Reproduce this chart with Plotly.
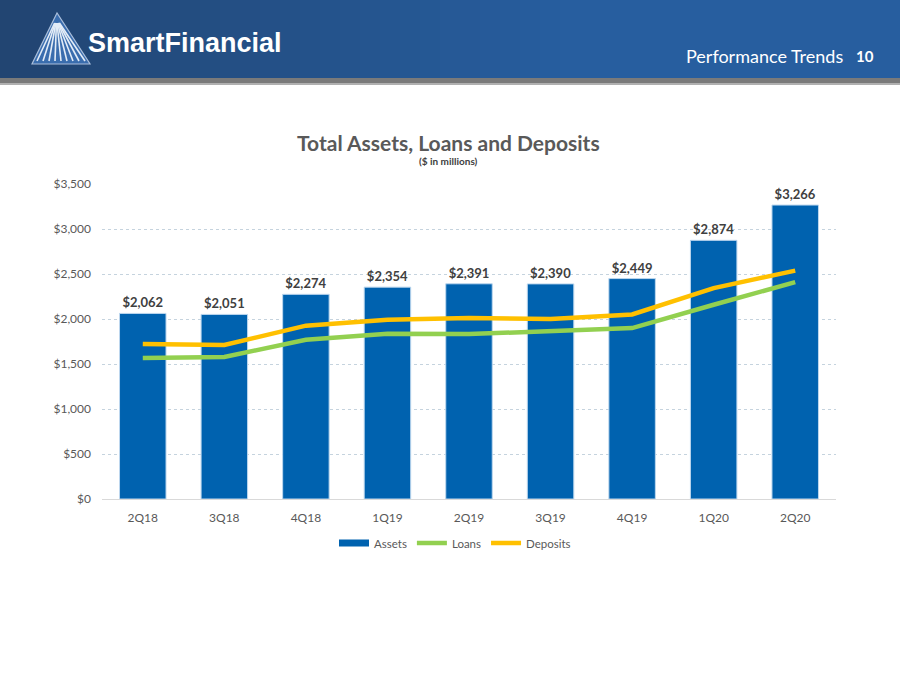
import plotly.graph_objects as go

quarters = ["2Q18", "3Q18", "4Q18", "1Q19", "2Q19", "3Q19", "4Q19", "1Q20", "2Q20"]
assets = [2062, 2051, 2274, 2354, 2391, 2390, 2449, 2874, 3266]
loans = [1567, 1578, 1769, 1836, 1832, 1868, 1899, 2158, 2410]
deposits = [1722, 1711, 1926, 1992, 2011, 2001, 2050, 2343, 2538]
y_ticks = [0, 500, 1000, 1500, 2000, 2500, 3000, 3500]
y_tick_labels = ["$0", "$500", "$1,000", "$1,500", "$2,000", "$2,500", "$3,000", "$3,500"]

W, H = 900, 675
L, R, T, B = 102, 836, 184, 499

def px(x):
    return (x - L) / (R - L)

def py(y):
    return (B - y) / (B - T)

BLUE = "#0062AF"
GREEN = "#92D050"
GOLD = "#FFC000"

fig = go.Figure()
fig.add_trace(go.Bar(
    x=quarters, y=assets, name="Assets", showlegend=False,
    marker=dict(color=BLUE, line=dict(color="#BDD7EE", width=1)),
    width=0.57,
    texttemplate="$%{y:,}", textposition="outside",
    textfont=dict(family="Lato", size=13, color="#404040", weight="bold"),
    cliponaxis=False,
))
# legend entry for bars drawn as a wide band (like the original)
fig.add_trace(go.Scatter(
    x=[None], y=[None], name="Assets", mode="lines",
    line=dict(color=BLUE, width=7),
))
fig.add_trace(go.Scatter(
    x=quarters, y=loans, name="Loans", mode="lines",
    line=dict(color=GREEN, width=4.5),
))
fig.add_trace(go.Scatter(
    x=quarters, y=deposits, name="Deposits", mode="lines",
    line=dict(color=GOLD, width=4.5),
))

shapes = []
# header gradient
n = 45
c0 = (0x22, 0x45, 0x72)
c1 = (0x27, 0x5E, 0x9F)
for i in range(n):
    t = i / (n - 1)
    c = tuple(int(c0[k] + (c1[k] - c0[k]) * min(1, t * 1.6)) for k in range(3))
    x0 = W * i / n
    x1 = W * (i + 1) / n + 1
    shapes.append(dict(type="rect", xref="paper", yref="paper",
                       x0=px(x0), x1=px(x1), y0=py(78), y1=py(0),
                       fillcolor="rgb(%d,%d,%d)" % c, line=dict(width=0), layer="below"))
shapes.append(dict(type="rect", xref="paper", yref="paper",
                   x0=px(0), x1=px(W), y0=py(83), y1=py(78),
                   fillcolor="#7A7A7A", line=dict(width=0), layer="below"))
shapes.append(dict(type="rect", xref="paper", yref="paper",
                   x0=px(0), x1=px(W), y0=py(85), y1=py(83),
                   fillcolor="#B0B0B0", line=dict(width=0), layer="below"))
# logo triangle
ax, ay = 57, 13
bl, br, by = 32, 90, 64
shapes.append(dict(type="path", xref="paper", yref="paper",
                   path="M %f %f L %f %f L %f %f Z" % (px(ax), py(ay), px(bl), py(by), px(br), py(by)),
                   fillcolor="#3A6DAE", line=dict(color="#A9BEDB", width=1.2), layer="below"))
for k in range(-4, 5):
    bx = 61 + k * 6.0
    shapes.append(dict(type="line", xref="paper", yref="paper",
                       x0=px(ax + k * 0.6), y0=py(ay + 10), x1=px(bx), y1=py(by - 3),
                       line=dict(color="#E3ECF7", width=1.6), layer="below"))

annotations = [
    dict(text="<b>SmartFinancial</b>", x=px(86), y=py(43), xref="paper", yref="paper",
         xanchor="left", yanchor="middle", showarrow=False,
         font=dict(family="Liberation Sans", size=27, color="white")),
    dict(text="Performance Trends", x=px(845), y=py(56), xref="paper", yref="paper",
         xanchor="right", yanchor="middle", showarrow=False,
         font=dict(family="Lato", size=18, color="white")),
    dict(text="<b>10</b>", x=px(876), y=py(56), xref="paper", yref="paper",
         xanchor="right", yanchor="middle", showarrow=False,
         font=dict(family="Lato", size=15, color="white")),
    dict(text="<b>Total Assets, Loans and Deposits</b>", x=px(448), y=py(142), xref="paper", yref="paper",
         xanchor="center", yanchor="middle", showarrow=False,
         font=dict(family="Lato", size=21, color="#595959")),
    dict(text="<b>($ in millions)</b>", x=px(448), y=py(161), xref="paper", yref="paper",
         xanchor="center", yanchor="middle", showarrow=False,
         font=dict(family="Lato", size=10, color="#404040")),
]

fig.update_layout(
    width=W, height=H,
    margin=dict(l=L, r=W - R, t=T, b=H - B),
    paper_bgcolor="white", plot_bgcolor="white",
    shapes=shapes, annotations=annotations,
    font=dict(family="Lato", color="#595959"),
    showlegend=True,
    legend=dict(orientation="h", x=px(455), xanchor="center", y=py(543), yanchor="middle",
                font=dict(family="Lato", size=11.5, color="#595959"),
                itemwidth=30, tracegroupgap=0),
    xaxis=dict(showgrid=False, showline=True, linecolor="#D9D9D9", linewidth=1,
               ticks="", tickfont=dict(size=12, color="#595959"), ticklabelstandoff=8),
    yaxis=dict(range=[0, 3500], tickvals=y_ticks, ticktext=y_tick_labels,
               showgrid=True, gridcolor="#C5D3DE", griddash="dot", gridwidth=1,
               zeroline=False, showline=False, ticks="",
               tickfont=dict(size=12, color="#595959"), ticklabelstandoff=10),
)

fig.write_html("out.html", config={"displayModeBar": False},
               post_script="document.body.style.margin='0';document.body.style.overflow='hidden';")
